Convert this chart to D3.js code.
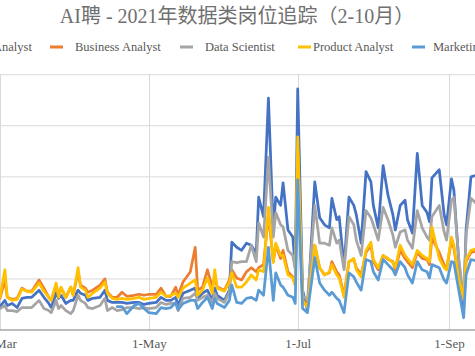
<!DOCTYPE html>
<html><head><meta charset="utf-8">
<script src="https://cdn.jsdelivr.net/npm/d3@7"></script>
<style>body{margin:0;background:#fff;overflow:hidden}svg{display:block}</style>
</head><body><svg id="c" width="475" height="356"></svg>
<script>
const dates = ["02-25","03-01","03-03","03-04","03-06","03-08","03-10","03-12","03-14","03-17","03-19","03-21","03-22","03-24","03-25","03-26","03-28","03-30","03-31",
"04-02","04-03","04-05","04-06","04-08","04-11","04-13","04-14","04-16","04-18","04-20","04-22","04-25","04-27","04-29",
"05-01","05-04","05-06","05-08","05-10","05-12","05-13","05-15","05-18","05-20","05-21","05-23","05-25","05-27","05-28","05-29",
"06-01","06-03","06-04","06-06","06-08","06-10","06-12","06-14","06-15","06-17","06-19","06-21","06-22","06-24","06-25","06-27","06-29","06-30",
"07-01","07-03","07-05","07-08","07-10","07-12","07-14","07-15","07-17","07-18","07-20","07-22","07-24","07-25","07-27","07-29","07-31",
"08-01","08-03","08-05","08-07","08-09","08-10","08-12","08-14","08-15","08-17","08-19","08-21","08-23","08-24","08-25","08-28","08-30","08-31",
"09-02","09-03","09-05","09-07","09-08","09-10","09-13"];

const dataAnalyst = [24,23,29,24,26,22,31,32,32,39,32,26,22,36,31,34,26,29,29,
39,36,34,29,31,32,39,29,27,27,27,26,27,27,25,
26,27,32,29,29,32,24,36,39,41,31,36,39,29,41,34,
29,39,86,81,78,85,83,75,130,111,227,98,130,122,144,98,91,61,
236,39,19,145,110,103,100,129,108,111,62,130,122,113,85,155,145,
122,100,161,132,113,98,122,127,108,95,173,122,115,106,149,157,113,103,
148,137,67,22,98,150,152];

const businessAnalyst = [33,31,49,32,30,31,41,38,38,49,41,32,29,44,33,41,32,42,34,
57,44,41,37,39,44,50,37,32,32,37,33,34,35,34,
35,35,41,33,33,42,34,47,57,81,39,42,59,42,52,42,
39,49,59,51,49,57,61,57,61,64,113,67,83,70,78,57,52,44,
176,29,24,83,61,54,56,67,57,54,34,67,69,61,54,76,83,
67,59,73,69,67,59,78,70,67,61,76,70,69,64,90,76,64,59,
88,80,49,29,67,76,78];

const dataScientist = [21,21,24,19,19,18,22,22,22,29,21,19,17,29,21,24,19,16,19,
34,29,26,22,21,24,31,19,22,19,20,22,22,21,22,
21,22,27,25,26,26,19,31,32,36,29,32,34,27,36,31,
27,37,67,66,67,67,83,67,105,91,169,91,115,103,101,78,73,59,
152,34,29,122,85,85,83,100,85,88,59,111,103,88,73,117,110,
103,88,120,108,93,81,96,98,88,80,117,100,91,88,111,122,96,88,
127,130,70,29,93,129,122];

const productAnalyst = [31,32,59,32,29,30,40,38,37,46,38,32,29,46,32,42,32,42,34,
61,42,39,32,36,41,47,36,31,30,31,30,31,32,30,
31,32,37,33,34,36,32,41,46,49,34,39,51,36,59,41,
38,47,56,42,42,47,54,49,59,57,120,66,85,73,73,54,51,44,
189,29,22,83,61,54,57,64,54,51,32,67,70,59,52,78,86,
69,61,73,70,66,61,83,73,70,64,78,73,70,67,101,70,61,59,
91,83,49,32,69,78,80];

const marketingAnalyst = [null,null,null,null,null,null,null,null,null,null,null,null,null,null,null,null,null,null,null,
null,null,null,null,null,null,null,null,null,23,23,16,24,26,21,
17,16,22,21,22,27,20,26,29,29,21,27,32,21,31,26,
22,29,44,27,26,31,32,29,39,34,81,29,56,44,42,34,32,26,
147,21,17,71,46,39,34,37,31,29,17,56,52,47,39,69,67,
57,49,69,64,59,54,67,61,54,46,67,59,57,51,64,61,49,46,
67,66,39,12,54,69,67];

const seriesNames = ["Data Analyst","Business Analyst","Data Scientist","Product Analyst","Marketing Analyst"];
const seriesValues = [dataAnalyst, businessAnalyst, dataScientist, productAnalyst, marketingAnalyst];
const seriesColors = ["#4472C4","#ED7D31","#A5A5A5","#FFC000","#5B9BD5"];
const tickDates = ["2021-03-01","2021-05-01","2021-07-01","2021-09-01"];
const yTicks = [0,50,100,150,200,250];
const titleText = "AI聘 - 2021年数据类岗位追踪（2-10月）";

const parse = d3.timeParse("%Y-%m-%d");
const svg = d3.select("#c");
const W = 475;
const x = d3.scaleTime().domain([parse("2021-03-01"), parse("2021-09-01")]).range([0, 449]);
const y = d3.scaleLinear().domain([0, 250]).range([330, 74.7]);
const serif = "'Liberation Serif','Noto Sans CJK SC',serif";

// title
svg.append("text").attr("x", 237).attr("y", 23).attr("text-anchor", "middle")
  .attr("font-family", serif).attr("font-size", 20).attr("fill", "#707070").text(titleText);

// horizontal gridlines
svg.append("g").selectAll("line").data(yTicks.filter(d => d > 0)).join("line")
  .attr("x1", -5).attr("x2", W + 5).attr("y1", d => y(d)).attr("y2", d => y(d))
  .attr("stroke", "#d9d9d9").attr("stroke-width", 1);

// vertical gridlines
const tdates = tickDates.map(parse);
svg.append("g").selectAll("line").data(tdates).join("line")
  .attr("x1", d => Math.round(x(d)) + 0.5).attr("x2", d => Math.round(x(d)) + 0.5)
  .attr("y1", y(250)).attr("y2", y(0))
  .attr("stroke", "#d9d9d9").attr("stroke-width", 1);

// lines
const line = d3.line().defined(d => d.v != null).x(d => x(d.date)).y(d => y(d.v));
seriesValues.forEach((vals, i) => {
  const pts = dates.map((s, j) => ({date: parse("2021-" + s), v: vals[j]}));
  svg.append("path").datum(pts).attr("d", line).attr("fill", "none")
    .attr("stroke", seriesColors[i]).attr("stroke-width", 2.75)
    .attr("stroke-linejoin", "round").attr("stroke-linecap", "round");
});

// x axis
svg.append("line").attr("x1", -5).attr("x2", W + 5).attr("y1", y(0)).attr("y2", y(0))
  .attr("stroke", "#a6a6a6").attr("stroke-width", 1.5);
const ax = svg.append("g").attr("transform", `translate(0,${y(0)})`)
  .call(d3.axisBottom(x).tickValues(tdates).tickFormat(d3.timeFormat("%-d-%b")).tickSize(0).tickPadding(9));
ax.select(".domain").remove();
ax.selectAll("text").attr("font-family", serif).attr("font-size", 13).attr("fill", "#595959");

// legend
const legendTextX = [-33, 75, 205, 313, 433];
const legendMarkX = [-57, 50, 180, 298, 412];
const lg = svg.append("g");
seriesNames.forEach((n, i) => {
  lg.append("line").attr("x1", legendMarkX[i]).attr("x2", legendMarkX[i] + 13)
    .attr("y1", 47).attr("y2", 47).attr("stroke", seriesColors[i]).attr("stroke-width", 3);
  lg.append("text").attr("x", legendTextX[i]).attr("y", 51)
    .attr("font-family", serif).attr("font-size", 12.5).attr("fill", "#595959").text(n);
});
</script></body></html>
